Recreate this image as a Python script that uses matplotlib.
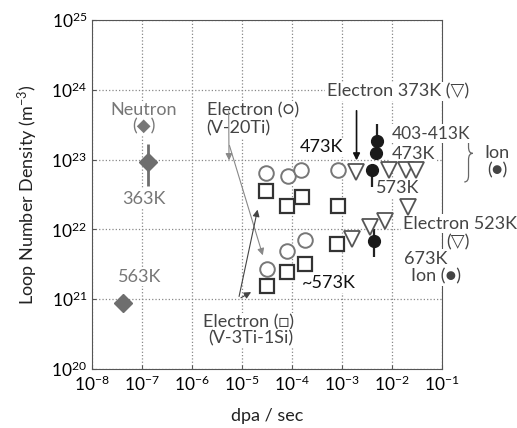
import numpy as np
import matplotlib
matplotlib.use('Agg')
import matplotlib.pyplot as plt
from matplotlib.path import Path
from matplotlib.patches import PathPatch

plt.rcParams['font.family'] = ['Lato', 'DejaVu Sans']
plt.rcParams['mathtext.fontset'] = 'custom'
plt.rcParams['mathtext.rm'] = 'Lato'
plt.rcParams['mathtext.it'] = 'Lato:italic'

# neutron (diamonds)
neutron_x = [1.3e-7, 4.1e-8]
neutron_y = [9.4e22, 8.9e20]
neutron_lo = [4.2e22, 8.9e20]
neutron_hi = [1.66e23, 8.9e20]

# electron V-20Ti (open circles)
v20_x = [2.95e-5, 8.3e-5, 1.5e-4, 8.3e-4, 3.1e-5, 7.9e-5, 1.8e-4]
v20_y = [6.5e22, 5.9e22, 7.2e22, 7.2e22, 2.75e21, 4.9e21, 7.1e21]

# electron V-3Ti-1Si (open squares)
v3_x = [2.95e-5, 7.8e-5, 1.55e-4, 8.3e-4, 3.1e-5, 8.1e-5, 1.8e-4, 7.9e-4]
v3_y = [3.5e22, 2.2e22, 2.9e22, 2.2e22, 1.55e21, 2.45e21, 3.2e21, 6.2e21]

# electron 373K / 523K (open down triangles)
tri_x = [1.9e-3, 8.5e-3, 1.86e-2, 2.95e-2, 2.1e-2, 7.4e-3, 3.7e-3, 1.6e-3]
tri_y = [6.6e22, 7.1e22, 7.2e22, 7.2e22, 2.1e22, 1.3e22, 1.1e22, 7.2e21]

# ion (filled circles)
ion_x = [5.0e-3, 4.7e-3, 4.0e-3, 4.3e-3]
ion_y = [1.86e23, 1.26e23, 7.2e22, 6.9e21]
ion_lo = [1.86e23, 1.26e23, 4.1e22, 4.0e21]
ion_hi = [3.2e23, 1.26e23, 7.2e22, 1.0e22]

# brace grouping the ion points (log10 units)
brace_x = -0.47
brace_w = 0.17
brace_top = 23.5
brace_bot = 22.68
brace_mid = 23.09

fig = plt.figure(figsize=(5.17, 4.28), dpi=100)
ax = fig.add_axes([0.178, 0.138, 0.677, 0.815])
ax.set_xscale('log')
ax.set_yscale('log')
ax.set_xlim(1e-8, 1e-1)
ax.set_ylim(1e20, 1e25)
ax.set_xticks([10.0**k for k in range(-8, 0)])
ax.set_yticks([10.0**k for k in range(20, 26)])
ax.minorticks_off()
ax.grid(True, linestyle=':', color='#888888', linewidth=0.9)
ax.tick_params(direction='in', length=3, labelsize=12.5, color='#555555')
ax.tick_params(axis='x', pad=4)
for s in ax.spines.values():
    s.set_color('#555555')

ax.set_xlabel('dpa / sec', fontsize=13, color='#222222', labelpad=10)
ax.set_ylabel('Loop Number Density (m$^{-3}$)', fontsize=13, color='#222222', labelpad=8)

# error bars
ny = np.array(neutron_y)
ax.errorbar(neutron_x, neutron_y, yerr=[ny - np.array(neutron_lo), np.array(neutron_hi) - ny],
            fmt='none', ecolor='#6e6e6e', elinewidth=2, zorder=4)
iy = np.array(ion_y)
ax.errorbar(ion_x, ion_y, yerr=[iy - np.array(ion_lo), np.array(ion_hi) - iy],
            fmt='none', ecolor='#222222', elinewidth=1.6, zorder=4)

ax.plot(neutron_x, neutron_y, 'D', ms=9, color='#6e6e6e', zorder=5)
ax.plot(v20_x, v20_y, 'o', ms=10.5, mfc='white', mec='#777777', mew=1.4, zorder=5)
ax.plot(v3_x, v3_y, 's', ms=9.5, mfc='white', mec='#333333', mew=1.6, zorder=5)
ax.plot(tri_x, tri_y, 'v', ms=11, mfc='white', mec='#555555', mew=1.3, zorder=5)
ax.plot(ion_x, ion_y, 'o', ms=8.5, color='#1a1a1a', zorder=6)

# arrows
ax.annotate('', xy=(5.5e-6, 8.9e22), xytext=(5.4e-6, 5.4e23),
            arrowprops=dict(arrowstyle='-|>', color='#888888', lw=0.8), zorder=4)
ax.annotate('', xy=(2.7e-5, 3.9e21), xytext=(5.4e-6, 1.74e23),
            arrowprops=dict(arrowstyle='-|>', color='#888888', lw=0.8), zorder=4)
ax.annotate('', xy=(2.1e-5, 2.1e22), xytext=(8.5e-6, 1.0e21),
            arrowprops=dict(arrowstyle='-|>', color='#444444', lw=0.8), zorder=4)
ax.annotate('', xy=(1.7e-5, 1.32e21), xytext=(8.5e-6, 1.0e21),
            arrowprops=dict(arrowstyle='-|>', color='#444444', lw=0.8), zorder=4)
ax.annotate('', xy=(1.95e-3, 8.9e22), xytext=(1.95e-3, 5.5e23),
            arrowprops=dict(arrowstyle='-|>', color='#111111', lw=1.2), zorder=4)

# curly brace drawn as a path
h = 0.09
bx0, bx1, bx2 = brace_x - brace_w / 2, brace_x, brace_x + brace_w / 2
verts = [(bx0, brace_top), (bx1, brace_top), (bx1, brace_top - h),
         (bx1, brace_mid + h), (bx1, brace_mid), (bx2, brace_mid),
         (bx1, brace_mid), (bx1, brace_mid - h),
         (bx1, brace_bot + h), (bx1, brace_bot), (bx0, brace_bot)]
codes = [Path.MOVETO, Path.CURVE3, Path.CURVE3, Path.LINETO, Path.CURVE3, Path.CURVE3,
         Path.CURVE3, Path.CURVE3, Path.LINETO, Path.CURVE3, Path.CURVE3]
verts = [(10.0**vx, 10.0**vy) for vx, vy in verts]
ax.add_patch(PathPatch(Path(verts, codes), facecolor='none', edgecolor='#666666',
                       lw=0.9, clip_on=False, zorder=3))

box = dict(facecolor='white', edgecolor='none', pad=1)
grey = '#777777'
dark = '#444444'
fs = 13


def label(x, y, s, color=dark, ha='center', size=fs):
    ax.text(x, y, s, color=color, ha=ha, va='center', fontsize=size, bbox=box,
            zorder=3, clip_on=False)


label(1.07e-7, 5.1e23, 'Neutron', grey)
label(1.07e-7, 2.95e23, '(◆)', grey)
label(1.07e-7, 2.75e22, '363K', grey)
label(8.9e-8, 2.1e21, '563K', grey)
label(1.95e-6, 5.1e23, 'Electron (○)', ha='left')
label(1.95e-6, 2.8e23, '(V-20Ti)', ha='left')
label(4.9e-4, 9.5e23, 'Electron 373K (▽)', ha='left')
label(3.9e-4, 1.5e23, '473K', '#111111')
label(1.0e-2, 2.35e23, '403-413K', ha='left', size=12.5)
label(9.8e-3, 1.2e23, '473K', ha='left')
label(4.7e-3, 3.9e22, '573K', ha='left')
label(1.62e-2, 1.2e22, 'Electron 523K', ha='left')
label(2.05e-1, 6.5e21, '(▽)')
label(1.7e-2, 3.8e21, '673K', ha='left')
label(2.35e-2, 2.1e21, 'Ion (●)', ha='left')
label(1.6e-4, 1.7e21, '~573K', '#111111', ha='left')
label(1.62e-6, 4.7e20, 'Electron (□)', ha='left')
label(2.15e-6, 2.75e20, '(V-3Ti-1Si)', ha='left')
label(1.28, 1.23e23, 'Ion')
label(1.28, 7.1e22, '(●)')

fig.savefig('out.png', dpi=100)
